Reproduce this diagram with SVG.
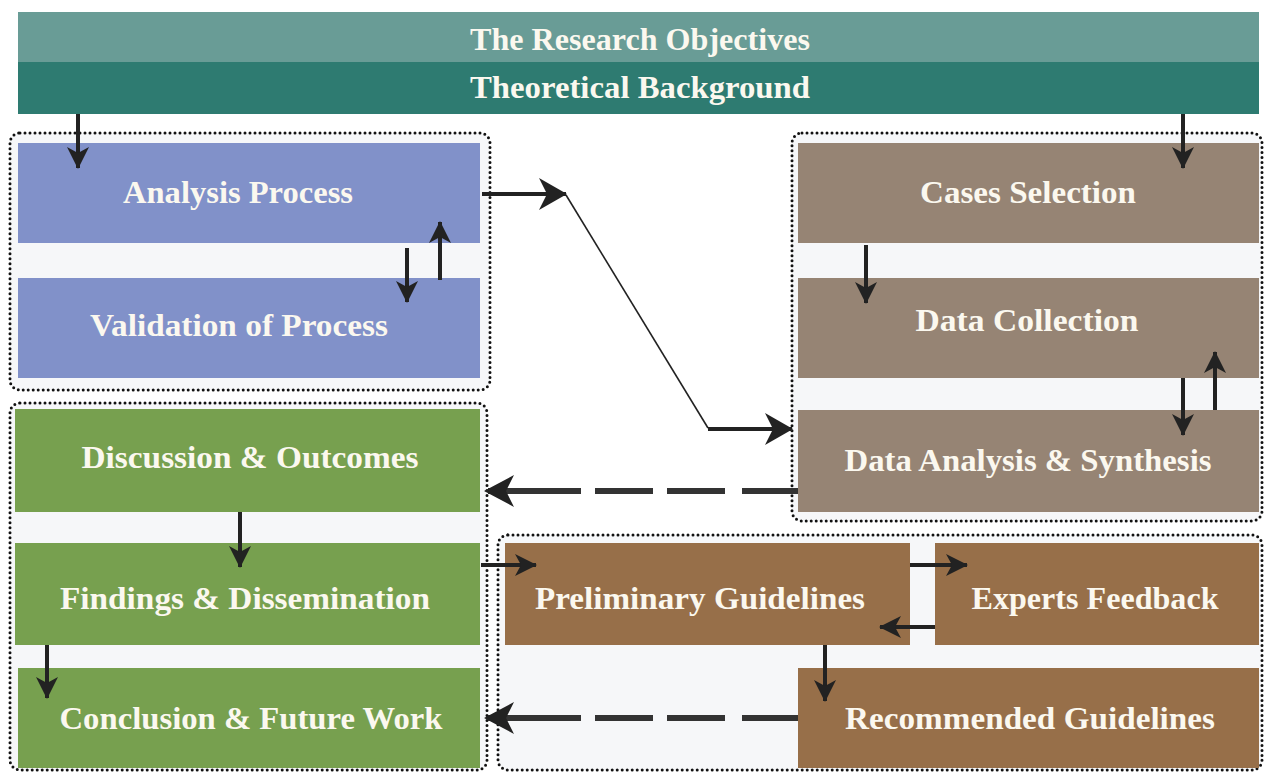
<svg xmlns="http://www.w3.org/2000/svg" width="1266" height="773" viewBox="0 0 1266 773">
<defs>
<style>
.t{font-family:"Liberation Serif","Times New Roman",serif;font-weight:bold;font-size:31px;fill:#fbf8ef;text-anchor:middle}
.grp{fill:#f6f7f9;stroke:#111;stroke-width:3;stroke-dasharray:0 5;stroke-linecap:round}
.ar{fill:none;stroke:#222;stroke-width:4}
.dash{fill:none;stroke:#333;stroke-width:6;stroke-dasharray:56 17 58 14 58 14 400}
.thin{fill:none;stroke:#222;stroke-width:1.6}
.blue{fill:#8191c9}.taupe{fill:#968474}.brown{fill:#976f49}.green{fill:#77a04f}
</style>
<marker id="ah" viewBox="0 0 22 22" refX="21" refY="11" markerWidth="22" markerHeight="22" markerUnits="userSpaceOnUse" orient="auto">
<path d="M0,0 L22,11 L0,22 L6,11 z" fill="#222"/>
</marker>
<marker id="ahL" viewBox="0 0 28 32" refX="27" refY="16" markerWidth="28" markerHeight="32" markerUnits="userSpaceOnUse" orient="auto">
<path d="M0,0 L28,16 L0,32 L8,16 z" fill="#222"/>
</marker>
</defs>
<rect width="1266" height="773" fill="#ffffff"/>

<g id="banner">
<rect x="18" y="12" width="1241" height="51" fill="#699c96"/>
<rect x="18" y="62" width="1241" height="52" fill="#2e7b71"/>
<text class="t" x="640" y="50" textLength="340" lengthAdjust="spacingAndGlyphs">The Research Objectives</text>
<text class="t" x="640" y="98" textLength="340" lengthAdjust="spacingAndGlyphs">Theoretical Background</text>
</g>

<g id="groups">
<rect class="grp" x="10" y="133" width="480" height="257" rx="10"/>
<rect class="grp" x="792" y="133" width="470" height="388" rx="10"/>
<rect class="grp" x="10" y="403" width="477" height="367" rx="10"/>
<rect class="grp" x="498" y="535" width="764" height="235" rx="10"/>
</g>

<g id="analysis">
<rect class="blue" x="18" y="143" width="462" height="100"/>
<text class="t" x="238" y="203" textLength="230" lengthAdjust="spacingAndGlyphs">Analysis Process</text>
</g>
<g id="validation">
<rect class="blue" x="18" y="278" width="462" height="100"/>
<text class="t" x="239" y="336" textLength="298" lengthAdjust="spacingAndGlyphs">Validation of Process</text>
</g>
<g id="cases">
<rect class="taupe" x="798" y="143" width="461" height="100"/>
<text class="t" x="1028" y="203" textLength="216" lengthAdjust="spacingAndGlyphs">Cases Selection</text>
</g>
<g id="collection">
<rect class="taupe" x="798" y="278" width="461" height="100"/>
<text class="t" x="1027" y="331" textLength="223" lengthAdjust="spacingAndGlyphs">Data Collection</text>
</g>
<g id="synthesis">
<rect class="taupe" x="798" y="410" width="461" height="102"/>
<text class="t" x="1028" y="471" textLength="367" lengthAdjust="spacingAndGlyphs">Data Analysis &amp; Synthesis</text>
</g>
<g id="discussion">
<rect class="green" x="15" y="409" width="465" height="103"/>
<text class="t" x="250" y="468" textLength="337" lengthAdjust="spacingAndGlyphs">Discussion &amp; Outcomes</text>
</g>
<g id="findings">
<rect class="green" x="15" y="543" width="465" height="102"/>
<text class="t" x="245" y="609" textLength="370" lengthAdjust="spacingAndGlyphs">Findings &amp; Dissemination</text>
</g>
<g id="conclusion">
<rect class="green" x="18" y="668" width="462" height="100"/>
<text class="t" x="251" y="729" textLength="383" lengthAdjust="spacingAndGlyphs">Conclusion &amp; Future Work</text>
</g>
<g id="preliminary">
<rect class="brown" x="505" y="543" width="405" height="102"/>
<text class="t" x="700" y="609" textLength="330" lengthAdjust="spacingAndGlyphs">Preliminary Guidelines</text>
</g>
<g id="experts">
<rect class="brown" x="935" y="543" width="324" height="102"/>
<text class="t" x="1095" y="609" textLength="247" lengthAdjust="spacingAndGlyphs">Experts Feedback</text>
</g>
<g id="recommended">
<rect class="brown" x="798" y="668" width="461" height="100"/>
<text class="t" x="1030" y="729" textLength="370" lengthAdjust="spacingAndGlyphs">Recommended Guidelines</text>
</g>

<g id="connectors">
<line class="ar" x1="78" y1="114" x2="78" y2="168" marker-end="url(#ah)"/>
<line class="ar" x1="1183" y1="114" x2="1183" y2="168" marker-end="url(#ah)"/>
<line class="ar" x1="407" y1="248" x2="407" y2="302" marker-end="url(#ah)"/>
<line class="ar" x1="440" y1="280" x2="440" y2="222" marker-end="url(#ah)"/>
<line class="ar" x1="482" y1="194" x2="566" y2="194" marker-end="url(#ahL)"/>
<line class="thin" x1="566" y1="195" x2="708" y2="428"/>
<line class="ar" x1="708" y1="429" x2="792" y2="429" marker-end="url(#ahL)"/>
<line class="ar" x1="866" y1="245" x2="866" y2="303" marker-end="url(#ah)"/>
<line class="ar" x1="1183" y1="378" x2="1183" y2="435" marker-end="url(#ah)"/>
<line class="ar" x1="1215" y1="410" x2="1215" y2="352" marker-end="url(#ah)"/>
<path class="dash" d="M798,491 L488,491"/>
<path d="M484,491 L514,475 L506,491 L514,507 z" fill="#222"/>
<line class="ar" x1="240" y1="512" x2="240" y2="567" marker-end="url(#ah)"/>
<line class="ar" x1="47" y1="645" x2="47" y2="698" marker-end="url(#ah)"/>
<line class="ar" x1="481" y1="565" x2="536" y2="565" marker-end="url(#ah)"/>
<line class="ar" x1="910" y1="565" x2="967" y2="565" marker-end="url(#ah)"/>
<line class="ar" x1="935" y1="627" x2="880" y2="627" marker-end="url(#ah)"/>
<line class="ar" x1="825" y1="645" x2="825" y2="701" marker-end="url(#ah)"/>
<path class="dash" d="M798,718 L488,718"/>
<path d="M484,718 L514,702 L506,718 L514,734 z" fill="#222"/>
</g>
</svg>
